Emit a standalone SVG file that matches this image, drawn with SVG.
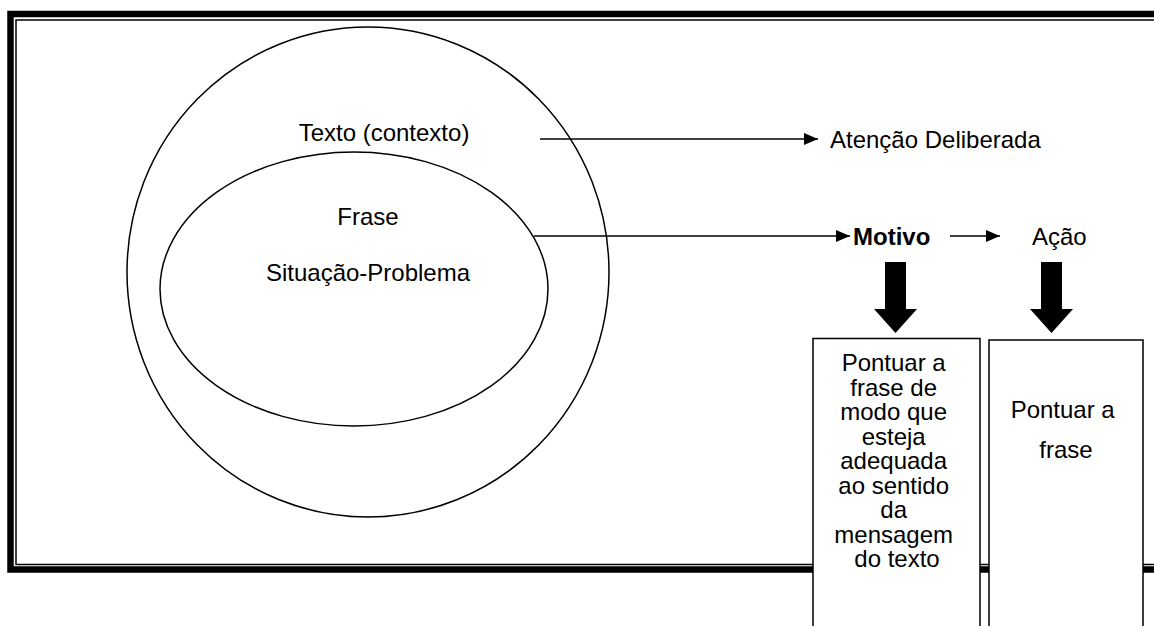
<svg xmlns="http://www.w3.org/2000/svg" width="1154" height="626" viewBox="0 0 1154 626">
  <style>
    .t { font-family: "Liberation Sans", Arial, sans-serif; font-size: 24px; fill: #000; }
    .c { text-anchor: middle; }
    .b { font-weight: bold; }
    .ln { stroke: #000; stroke-width: 1.5; fill: none; }
    .box { stroke: #000; stroke-width: 1.5; fill: #fff; }
  </style>
  <defs>
    <marker id="tri" viewBox="0 0 14 12" refX="14" refY="6" markerWidth="14" markerHeight="12" markerUnits="userSpaceOnUse" orient="auto">
      <path d="M0,0 L14,6 L0,12 Z" fill="#000"/>
    </marker>
  </defs>

  <!-- page border: thick outer rule with thin inner rule -->
  <g id="frame" fill="none" stroke="#000">
    <path d="M1160,14 H10.5 V569.5 H1160" stroke-width="6.5"/>
    <path d="M1160,20 H16 V564.5 H1160" stroke-width="1.5"/>
  </g>

  <g id="texto">
    <ellipse cx="368" cy="272" rx="241" ry="245" class="ln"/>
    <text x="384" y="141" class="t c">Texto (contexto)</text>
  </g>

  <g id="frase">
    <ellipse cx="354" cy="289" rx="194" ry="137" class="ln"/>
    <text x="368" y="225" class="t c">Frase</text>
    <text x="368" y="281" class="t c">Situação-Problema</text>
  </g>

  <g id="connectors">
    <line x1="540" y1="139" x2="818" y2="139" class="ln" marker-end="url(#tri)"/>
    <line x1="534" y1="236" x2="850" y2="236" class="ln" marker-end="url(#tri)"/>
    <line x1="950" y1="236" x2="1000" y2="236" class="ln" marker-end="url(#tri)"/>
    <polygon points="885,262 906,262 906,309 917,309 895.5,333 874,309 885,309" fill="#000"/>
    <polygon points="1041,262 1062,262 1062,309 1073,309 1051.5,333 1030,309 1041,309" fill="#000"/>
  </g>

  <g id="atencao">
    <text x="830" y="148" class="t">Atenção Deliberada</text>
  </g>

  <g id="motivo">
    <text x="853" y="245" class="t b">Motivo</text>
  </g>

  <g id="acao">
    <text x="1032" y="245" class="t">Ação</text>
  </g>

  <g id="motivo-box">
    <rect x="813" y="338.5" width="167" height="300" class="box"/>
    <text class="t c">
      <tspan x="897" y="371">Pontuar a</tspan>
      <tspan x="897" y="395.5">frase de</tspan>
      <tspan x="897" y="420">modo que</tspan>
      <tspan x="897" y="444.5">esteja</tspan>
      <tspan x="897" y="469">adequada</tspan>
      <tspan x="897" y="493.5">ao sentido</tspan>
      <tspan x="897" y="518">da</tspan>
      <tspan x="897" y="542.5">mensagem</tspan>
      <tspan x="897" y="567">do texto</tspan>
    </text>
  </g>

  <g id="acao-box">
    <rect x="989" y="340" width="154" height="300" class="box"/>
    <text class="t c">
      <tspan x="1066" y="418">Pontuar a</tspan>
      <tspan x="1066" y="458">frase</tspan>
    </text>
  </g>
</svg>
